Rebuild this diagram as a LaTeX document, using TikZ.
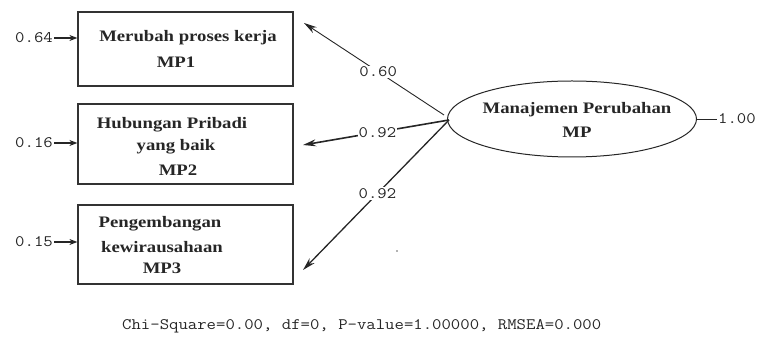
\documentclass[tikz,border=0pt]{standalone}
\usepackage{fontspec}
\setmainfont{Liberation Serif}[FakeStretch=1.17]
\setmonofont{Latin Modern Mono}[FakeStretch=1.14]
\usetikzlibrary{arrows.meta,shapes.geometric}
\begin{document}
\begin{tikzpicture}[x=1pt,y=-1pt,
  box/.style={draw=black!80, line width=1.2pt, minimum width=215pt, inner sep=0pt},
  lbl/.style={font=\bfseries\fontsize{16}{18}\selectfont, text=black!85, inner sep=0pt},
  num/.style={font=\ttfamily\fontsize{16}{18}\selectfont, text=black!85, inner sep=1pt},
  load/.style={draw=black!85, line width=0.9pt, -{Stealth[length=13pt,width=7pt]}},
  res/.style={draw=black!85, line width=1.6pt, -{Stealth[length=8pt,width=6pt]}}
]
\useasboundingbox (0,0) rectangle (761,347);

% observed indicators
\node[box, minimum height=74pt] (b1) at (185.5,49) {};
\node[box, minimum height=80pt] (b2) at (185.5,144) {};
\node[box, minimum height=79pt] (b3) at (185.5,244.5) {};

\node[lbl] (b1a) at (188,38) {Merubah proses kerja};
\node[lbl] (b1b) at (176,62) {MP1};
\node[lbl] (b2a) at (172,125) {Hubungan Pribadi};
\node[lbl] (b2b) at (176,147) {yang baik};
\node[lbl] (b2c) at (178,170) {MP2};
\node[lbl] (b3a) at (160,224) {Pengembangan};
\node[lbl] (b3b) at (162,247) {kewirausahaan};
\node[lbl] (b3c) at (162,268) {MP3};

% latent variable
\node[draw=black!85, line width=1pt, ellipse, minimum width=249pt, minimum height=76pt] (mp) at (572,119) {};
\node[lbl] (mpa) at (577,110) {Manajemen Perubahan};
\node[lbl] (mpb) at (577,132) {MP};

\node[num, anchor=west] (var) at (717,119) {1.00};
\draw[black!85, line width=0.9pt] (mp.east) -- (var.west);

% loadings
\coordinate (t1) at (304,23);
\coordinate (t2) at (303,145);
\coordinate (t3) at (303,270);
\coordinate (o1) at (444,115);
\coordinate (o2) at (449,120);

\draw[load] (o1) -- node[num, fill=white, pos=0.47] {0.60} (t1);
\draw[load, line width=1.6pt] (o2) -- node[num, fill=white, pos=0.49] {0.92} (t2);
\draw[load, line width=1.3pt] (o2) -- node[num, fill=white, pos=0.49] {0.92} (t3);

% error variances
\node[num, anchor=east] (e1) at (54,38) {0.64};
\node[num, anchor=east] (e2) at (54,143) {0.16};
\node[num, anchor=east] (e3) at (54,242) {0.15};
\draw[res] (e1.east) -- (e1.east -| b1.west);
\draw[res] (e2.east) -- (e2.east -| b2.west);
\draw[res] (e3.east) -- (e3.east -| b3.west);

\fill[black!60] (397,251) circle (0.8pt);

% goodness of fit
\node[num, anchor=west] (fit) at (121,326) {Chi-Square=0.00, df=0, P-value=1.00000, RMSEA=0.000};
\end{tikzpicture}
\end{document}
